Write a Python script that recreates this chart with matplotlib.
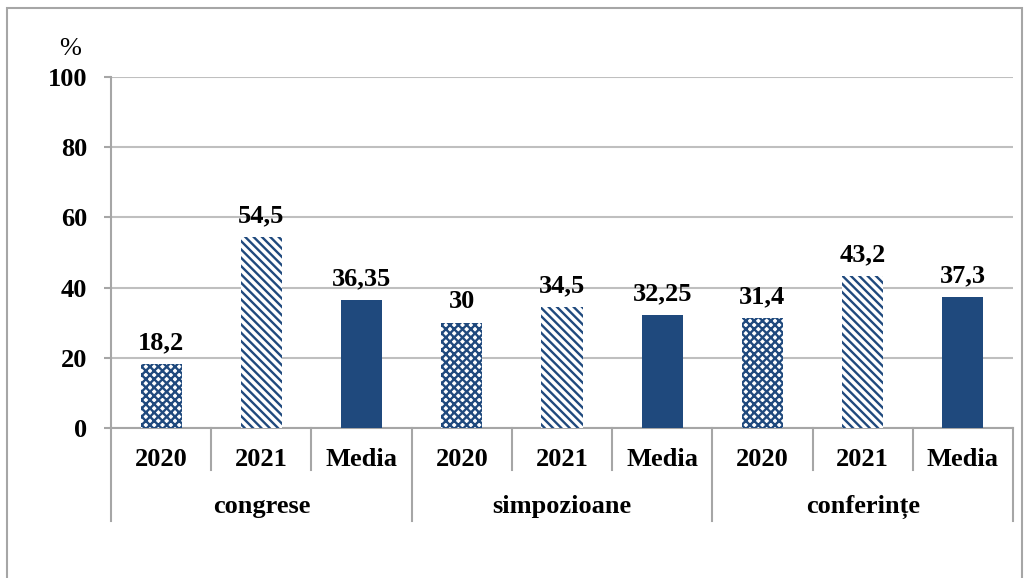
import matplotlib.pyplot as plt
from matplotlib.patches import Rectangle

groups = ["congrese", "simpozioane", "conferințe"]
years = ["2020", "2021", "Media"]
values = [18.2, 54.5, 36.35, 30, 34.5, 32.25, 31.4, 43.2, 37.3]
value_labels = ["18,2", "54,5", "36,35", "30", "34,5", "32,25", "31,4", "43,2", "37,3"]
yticks = [0, 20, 40, 60, 80, 100]

blue = "#1F497D"
grey = "#A6A6A6"
plt.rcParams['font.family'] = ['Liberation Serif', 'DejaVu Serif']
plt.rcParams['hatch.linewidth'] = 1.7

fig = plt.figure(figsize=(10.3, 5.78), dpi=100)
fig.patches.append(Rectangle((0.0065, -0.01), 0.986, 0.997, transform=fig.transFigure,
                             fill=False, edgecolor=grey, linewidth=1.5))
ax = fig.add_axes([0.1078, 0.2595, 0.8757, 0.6073])

hatches = ["xxxx", "\\\\\\\\", None]
for i, v in enumerate(values):
    h = hatches[i % 3]
    if h is None:
        ax.bar(i, v, width=0.41, color=blue, linewidth=0, zorder=3)
    else:
        ax.bar(i, v, width=0.41, facecolor="white", edgecolor=blue, hatch=h,
               linewidth=0, zorder=3)
    ax.annotate(value_labels[i], (i, v), xytext=(0, 7), textcoords="offset points",
                ha="center", va="bottom", fontsize=19, fontweight="bold")

ax.set_xlim(-0.5, len(values) - 0.5)
ax.set_ylim(0, 100)
ax.set_yticks(yticks)
ax.set_yticklabels([str(t) for t in yticks], fontsize=19, fontweight="bold")
ax.tick_params(axis="y", length=5, color=grey, width=1.5, pad=12)
ax.set_xticks([])
ax.grid(axis="y", color="#BFBFBF", linewidth=1.5, zorder=0)
for s in ["top", "right"]:
    ax.spines[s].set_visible(False)
ax.spines["left"].set_color(grey)
ax.spines["left"].set_linewidth(1.5)
ax.spines["bottom"].set_color(grey)
ax.spines["bottom"].set_linewidth(1.5)

# category axis with two levels
trans = ax.get_xaxis_transform()
for k in range(len(values) + 1):
    b = k - 0.5
    low = -0.265 if k % 3 == 0 else -0.12
    ax.plot([b, b], [0, low], transform=trans, color=grey, linewidth=1.5, clip_on=False)
for i in range(len(values)):
    ax.text(i, -0.09, years[i % 3], transform=trans, ha="center", va="center",
            fontsize=19, fontweight="bold")
for g, name in enumerate(groups):
    ax.text(g * 3 + 1, -0.225, name, transform=trans, ha="center", va="center",
            fontsize=19, fontweight="bold")

fig.text(0.068, 0.915, "%", ha="center", va="center", fontsize=19)

fig.savefig("out.png", dpi=100)
